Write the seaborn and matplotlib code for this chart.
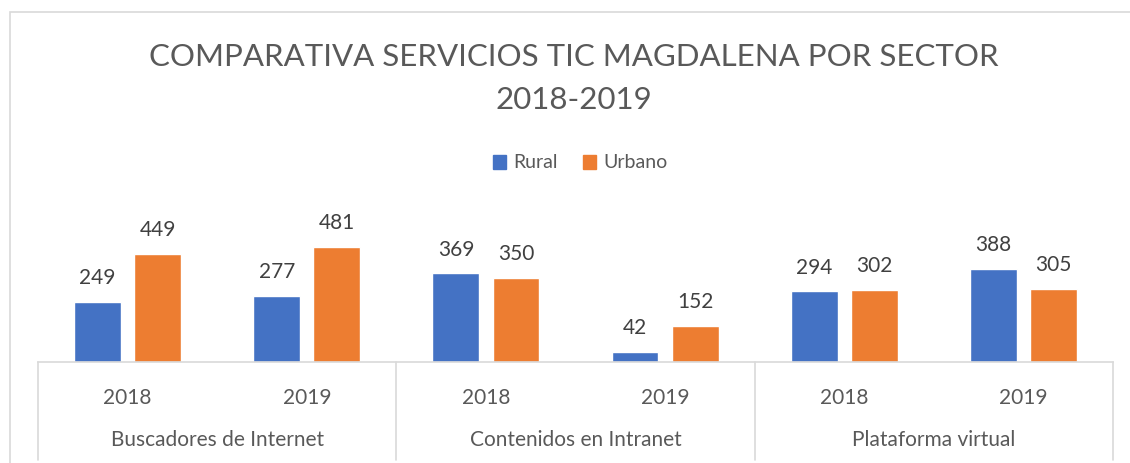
import matplotlib
matplotlib.use("Agg")
import matplotlib.pyplot as plt
import matplotlib.transforms as mtransforms
from matplotlib.lines import Line2D
from matplotlib.patches import Rectangle
import seaborn as sns
import pandas as pd

groups = ["Buscadores de Internet", "Contenidos en Intranet", "Plataforma virtual"]
years = ["2018", "2019"]
rural = [249, 277, 369, 42, 294, 388]
urbano = [449, 481, 350, 152, 302, 305]
series = ["Rural", "Urbano"]
colors = ["#4472C4", "#ED7D31"]

cats = [f"{g}|{y}" for g in groups for y in years]
df = pd.DataFrame({
    "cat": cats * 2,
    "serie": [series[0]] * len(cats) + [series[1]] * len(cats),
    "valor": rural + urbano,
})

sns.set_theme(style="white")
plt.rcParams["font.family"] = ["Lato", "DejaVu Sans"]

W, H = 1130, 463
fig = plt.figure(figsize=(W / 100, H / 100), dpi=100)
# axes: left 38, right 1113, bottom 362, top 218 (px)
ax = fig.add_axes([38 / W, 1 - 362 / H, (1113 - 38) / W, (362 - 218) / H])

sns.barplot(data=df, x="cat", y="valor", hue="serie", order=cats, hue_order=series,
            palette=colors, width=0.67, gap=0.22, ax=ax, legend=False, saturation=1)
ax.set_ylim(0, 600)
ax.set_xlim(-0.5, len(cats) - 0.5)
for c in ax.containers:
    ax.bar_label(c, padding=10, fontsize=15, color="#404040")

for s in ["top", "right", "left"]:
    ax.spines[s].set_visible(False)
ax.spines["bottom"].set_color("#D9D9D9")
ax.spines["bottom"].set_linewidth(1.2)
ax.set_yticks([])
ax.set_ylabel("")
ax.set_xlabel("")
ax.set_xticks(range(len(cats)))
ax.set_xticklabels([y for g in groups for y in years], fontsize=15, color="#595959")
ax.tick_params(axis="x", length=0, pad=19)

trans = mtransforms.blended_transform_factory(ax.transData, fig.transFigure)
for i, g in enumerate(groups):
    ax.text(2 * i + 0.5, 1 - 440 / H, g, transform=trans, ha="center", va="center",
            fontsize=15, color="#595959")
for k in range(len(groups) + 1):
    x = 2 * k - 0.5
    ax.add_line(Line2D([x, x], [1 - 362 / H, 1 - 460 / H], transform=trans,
                       color="#D9D9D9", lw=1.2, clip_on=False))

cx = 0.5 * (148 + 1000) / W
fig.text(cx, 1 - 57 / H, "COMPARATIVA SERVICIOS TIC MAGDALENA POR SECTOR",
         ha="center", va="center", fontsize=22.5, color="#595959")
fig.text(cx, 1 - 100 / H, "2018-2019",
         ha="center", va="center", fontsize=22.5, color="#595959")

handles = [Rectangle((0, 0), 1, 1, color=c) for c in colors]
fig.legend(handles, series, loc="center", bbox_to_anchor=(580 / W, 1 - 163 / H), ncol=2,
           frameon=False, fontsize=14, handlelength=0.7, handleheight=0.7,
           handletextpad=0.35, columnspacing=1.3, labelcolor="#595959")

fig.patches.append(Rectangle((10 / W, -0.1), 1.2, 1 - 12 / H + 0.1, transform=fig.transFigure,
                             fill=False, edgecolor="#D9D9D9", lw=1.2))

fig.savefig("out.png", dpi=100)
